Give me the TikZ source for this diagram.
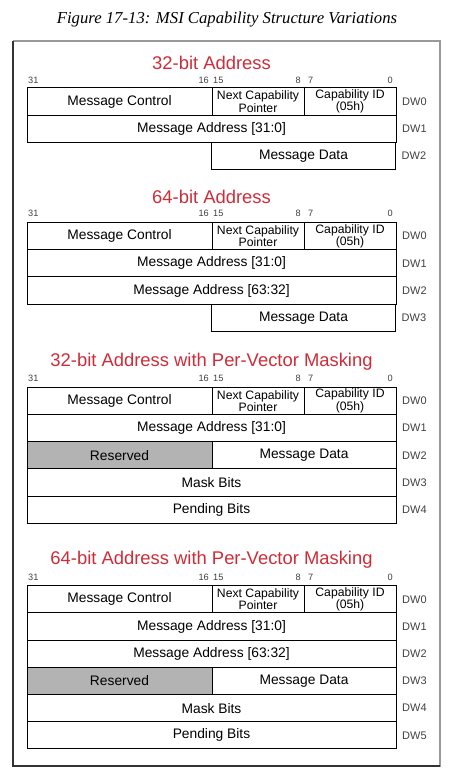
\documentclass[tikz,border=0pt]{standalone}
\usepackage{fontspec}
\setsansfont{Liberation Sans}
\newfontfamily\capfont{Liberation Serif}
\usepackage{tikz}
\usetikzlibrary{positioning}
\definecolor{msired}{RGB}{206,44,56}
\definecolor{msigray}{RGB}{179,179,179}
\definecolor{framedark}{RGB}{51,51,51}
\definecolor{framelight}{RGB}{153,153,153}
\tikzset{
  %% ---- register fields ----
  fld/.style    = {rectangle, draw=black, line width=1pt, anchor=north west,
                   minimum width=#1, minimum height=27.2pt, inner sep=0pt,
                   outer sep=0pt, align=center,
                   font=\sffamily\fontsize{13.8}{15}\selectfont},
  fld/.default  = 369pt,
  rsvfld/.style = {fld=185pt, fill=msigray},
  twoline/.style= {font=\sffamily\fontsize{12.2}{11}\selectfont},
  %% ---- labels ----
  sectitle/.style = {text=msired, inner sep=0pt,
                   font=\sffamily\fontsize{18.4}{20}\selectfont},
  bitnum/.style = {inner sep=0pt, text=black!75,
                   font=\sffamily\fontsize{9.2}{10}\selectfont},
  dwlbl/.style  = {anchor=west, inner sep=0pt, text=black!75,
                   font=\sffamily\fontsize{11}{12}\selectfont},
}

\begin{document}
\begin{tikzpicture}[x=1pt, y=1pt]

  \useasboundingbox (0,0) rectangle (450,-783);

  \node[anchor=west, inner sep=0pt,
        font=\capfont\itshape\fontsize{16.7}{18}\selectfont] (cap)
    at (56.7,-20) {Figure 17-13: MSI Capability Structure Variations};

  % outer frame
  \draw[framelight, line width=2pt] (13,-766) -- (440,-766) -- (440,-41) -- (13,-41);
  \draw[framedark, line width=2pt] (440,-766) -- (13,-766) -- (13,-41);

  %% ---- titles and bit numbers ----
  \node[sectitle] (t1) at (211.5,-63)  {32-bit Address};
  \node[sectitle] (t2) at (211.5,-197) {64-bit Address};
  \node[sectitle] (t3) at (211.5,-362) {32-bit Address with Per-Vector Masking};
  \node[sectitle] (t4) at (211.5,-560) {64-bit Address with Per-Vector Masking};

  \foreach \y/\s in {80/a, 213/b, 378/c, 577/d} {
    \node[bitnum, anchor=west] (b31\s) at (28,-\y)  {31};
    \node[bitnum, anchor=east] (b16\s) at (209,-\y) {16};
    \node[bitnum, anchor=west] (b15\s) at (213,-\y) {15};
    \node[bitnum, anchor=east] (b8\s)  at (301,-\y) {8};
    \node[bitnum, anchor=west] (b7\s)  at (308,-\y) {7};
    \node[bitnum, anchor=east] (b0\s)  at (393,-\y) {0};
  }

  %% ---- 32-bit Address ----
  \node[fld=185pt] (mca) at (27,-88) {Message Control};
  \node[fld=92pt, twoline, right=0pt of mca.north east, anchor=north west] (ptra)
    {Next Capability\\Pointer};
  \node[fld=92pt, twoline, right=0pt of ptra.north east, anchor=north west] (ida)
    {Capability ID\\(05h)};
  \node[fld, below=0pt of mca.south west, anchor=north west] (adra)
    {Message Address [31:0]};
  \node[fld=184pt, below=0pt of adra.south, anchor=north west] (data)
    {Message Data};

  %% ---- 64-bit Address ----
  \node[fld=185pt] (mcb) at (27,-222.5) {Message Control};
  \node[fld=92pt, twoline, right=0pt of mcb.north east, anchor=north west] (ptrb)
    {Next Capability\\Pointer};
  \node[fld=92pt, twoline, right=0pt of ptrb.north east, anchor=north west] (idb)
    {Capability ID\\(05h)};
  \node[fld, below=0pt of mcb.south west, anchor=north west] (adrb)
    {Message Address [31:0]};
  \node[fld, below=0pt of adrb.south west, anchor=north west] (hadrb)
    {Message Address [63:32]};
  \node[fld=184pt, below=0pt of hadrb.south, anchor=north west] (datb)
    {Message Data};

  %% ---- 32-bit Address with Per-Vector Masking ----
  \node[fld=185pt] (mcc) at (27,-387.3) {Message Control};
  \node[fld=92pt, twoline, right=0pt of mcc.north east, anchor=north west] (ptrc)
    {Next Capability\\Pointer};
  \node[fld=92pt, twoline, right=0pt of ptrc.north east, anchor=north west] (idc)
    {Capability ID\\(05h)};
  \node[fld, below=0pt of mcc.south west, anchor=north west] (adrc)
    {Message Address [31:0]};
  \node[rsvfld, below=0pt of adrc.south west, anchor=north west] (rsvc)
    {Reserved};
  \node[fld=184pt, right=0pt of rsvc.north east, anchor=north west] (datc)
    {Message Data};
  \node[fld, below=0pt of rsvc.south west, anchor=north west] (mskc)
    {Mask Bits};
  \node[fld, below=0pt of mskc.south west, anchor=north west] (pndc)
    {Pending Bits};

  %% ---- 64-bit Address with Per-Vector Masking ----
  \node[fld=185pt] (mcd) at (27,-585.7) {Message Control};
  \node[fld=92pt, twoline, right=0pt of mcd.north east, anchor=north west] (ptrd)
    {Next Capability\\Pointer};
  \node[fld=92pt, twoline, right=0pt of ptrd.north east, anchor=north west] (idd)
    {Capability ID\\(05h)};
  \node[fld, below=0pt of mcd.south west, anchor=north west] (adrd)
    {Message Address [31:0]};
  \node[fld, below=0pt of adrd.south west, anchor=north west] (hadrd)
    {Message Address [63:32]};
  \node[rsvfld, below=0pt of hadrd.south west, anchor=north west] (rsvd)
    {Reserved};
  \node[fld=184pt, right=0pt of rsvd.north east, anchor=north west] (datd)
    {Message Data};
  \node[fld, below=0pt of rsvd.south west, anchor=north west] (mskd)
    {Mask Bits};
  \node[fld, below=0pt of mskd.south west, anchor=north west] (pndd)
    {Pending Bits};

  %% ---- DW numbers ----
  \foreach \r/\n in {ida/DW0, adra/DW1, data/DW2,
                     idb/DW0, adrb/DW1, hadrb/DW2, datb/DW3,
                     idc/DW0, adrc/DW1, datc/DW2, mskc/DW3, pndc/DW4,
                     idd/DW0, adrd/DW1, hadrd/DW2, datd/DW3, mskd/DW4, pndd/DW5}
    \node[dwlbl] (lbl\r) at ([xshift=6pt]\r.east) {\n};

\end{tikzpicture}
\end{document}
